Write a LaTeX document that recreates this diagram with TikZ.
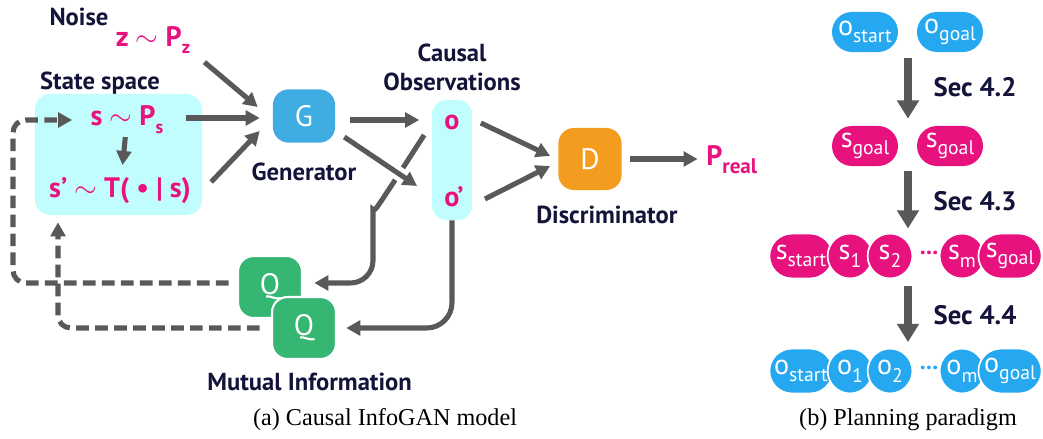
\documentclass[tikz,border=0pt]{standalone}
\usepackage{fontspec}
\setmainfont{PT Sans}
\newfontfamily\capfont{Liberation Serif}
\usetikzlibrary{arrows.meta,positioning,calc,shapes.misc}

\definecolor{ink}{HTML}{14143A}
\definecolor{hotpink}{HTML}{E8127F}
\definecolor{cyanbg}{HTML}{C1FDFD}
\definecolor{gblue}{HTML}{3FADE1}
\definecolor{dorange}{HTML}{F39C1F}
\definecolor{qgreen}{HTML}{36B673}
\definecolor{pillblue}{HTML}{26A8F0}
\definecolor{arrowgray}{HTML}{595959}

% lowered index, size in pt
\newcommand{\lowidx}[2][14]{\raisebox{-0.55ex}{\fontsize{#1}{#1}\selectfont #2}}

\begin{document}
\begin{tikzpicture}[
    x=0.025cm, y=-0.025cm,
    lbl/.style={font=\fontsize{17.5}{21}\selectfont\bfseries, text=ink, inner sep=0pt, align=center},
    seclbl/.style={font=\fontsize{19}{20}\selectfont\bfseries, text=ink, inner sep=0pt},
    pinktxt/.style={font=\fontsize{20}{22}\selectfont\bfseries, text=hotpink, inner sep=0pt},
    captxt/.style={font=\capfont\fontsize{17.2}{19}\selectfont, text=black, inner sep=0pt},
    statebox/.style={fill=cyanbg, rounded corners=11pt, minimum width=4.175cm, minimum height=3.025cm},
    obsbox/.style={fill=cyanbg, rounded corners=10pt, minimum width=1cm, minimum height=3cm},
    block/.style={rounded corners=11pt, text=white, font=\fontsize{21}{22}\selectfont, inner sep=0pt},
    gbox/.style={block, fill=gblue, minimum width=1.55cm, minimum height=1.33cm},
    dbox/.style={block, fill=dorange, minimum width=1.58cm, minimum height=1.55cm},
    qbox/.style={block, fill=qgreen, minimum width=1.6cm, minimum height=1.55cm, draw=white, line width=1.5pt},
    pill/.style={rounded rectangle, text=white, font=\fontsize{20}{20}\selectfont, inner sep=0pt, minimum width=1.65cm, minimum height=1cm},
    bluepill/.style={pill, fill=pillblue},
    pinkpill/.style={pill, fill=hotpink},
    wide/.style={minimum width=1.58cm, minimum height=1.12cm, draw=white, line width=1.2pt},
    disc/.style={circle, text=white, font=\fontsize{20}{20}\selectfont, inner sep=0pt, minimum size=1.12cm, draw=white, line width=1.2pt},
    pinkdisc/.style={disc, fill=hotpink},
    bluedisc/.style={disc, fill=pillblue},
    dotsnode/.style={font=\fontsize{17}{17}\selectfont\bfseries, inner sep=0pt},
    arr/.style={-{Triangle[length=10pt, width=10.5pt]}, line width=3.6pt, draw=arrowgray},
    dasharr/.style={arr, dash pattern=on 9pt off 4.5pt, rounded corners=9pt},
    bigarr/.style={-{Triangle[length=13pt, width=15pt]}, line width=5.8pt, draw=arrowgray}
  ]
    \useasboundingbox (0,0) rectangle (1043,439);

    % (a) Causal InfoGAN
    \node[lbl] (noise) at (79,17) {Noise};
    \node[pinktxt] (zP) at (153,40) {z $\sim$ P\lowidx[13]{z}};
    \node[lbl] (statelbl) at (100,83) {State space};
    \node[statebox] (state) at (118.5,154.5) {};
    \node[pinktxt] (sP) at (127,120) {s $\sim$ P\lowidx[13]{s}};
    \node[pinktxt] (sT) at (120,191) {s’ $\sim$ T( \textbullet\ | s)};

    \node[gbox] (G) at (304,116) {G};
    \node[lbl, below=14pt of G] (genlbl) {Generator};

    \node[obsbox] (obs) at (452,160) {};
    \node[pinktxt] (o) at (452,122) {o};
    \node[pinktxt] (o2) at (454,197) {o’};
    \node[lbl, above=6pt of obs] (obslbl) {Causal\\Observations};

    \node[dbox] (D) at (590,159) {D};
    \node[lbl, below=11pt of D, xshift=12pt] (dislbl) {Discriminator};
    \node[pinktxt, anchor=west] (Preal) at (706,160) {P\lowidx[15]{real}};

    \node[qbox] (Q1) at (270,287) {Q};
    \node[qbox] (Q2) at (304,328) {Q};
    \node[lbl, below=9pt of Q2, xshift=4pt] (mutlbl) {Mutual Information};

    \coordinate (rail1) at (13,0);
    \coordinate (rail2) at (58,0);
    \coordinate (cross) at (390,188);
    \coordinate (drop) at (373,232);

    \draw[arr, shorten <=2pt, shorten >=9pt] (sP) -- (sT);
    \draw[arr] ([shift={(14,8)}]zP.south east) -- ([shift={(-15,-9)}]G.west);
    \draw[arr] ([shift={(22,-2)}]sP.east) -- ([shift={(-13,2)}]G.west);
    \draw[arr] ([shift={(20,-9)}]sT.east) -- ([shift={(-13,15)}]G.west);

    \draw[arr] ([shift={(15,4)}]G.east) -- ([shift={(-25,-2)}]o.west);
    \draw[arr, rounded corners=16pt, shorten >=8pt] ([shift={(-20,13)}]o.west) -- (cross) to[out=236, in=90] (drop) |- ([shift={(0,-4)}]Q1.east);
    \draw[arr, preaction={draw=white, line width=10pt, -}] ([shift={(9,21)}]G.east) -- ([shift={(-27,-11)}]o2.west);
    \draw[arr, rounded corners=18pt, shorten >=6.5pt] (obs.south) |- (Q2.east);

    \draw[arr] ([shift={(21,1)}]o.east) -- ([shift={(-8,-3)}]D.west);
    \draw[arr] ([shift={(21,2)}]o2.east) -- ([shift={(-8,7)}]D.west);
    \draw[arr, shorten <=6pt, shorten >=6pt] (D.east) -- (D.east -| Preal.west);

    \draw[dasharr, shorten <=6pt, shorten >=13pt] ([shift={(0,-4)}]Q1.west) -- ([shift={(0,-4)}]Q1.west -| rail1) |- (sP.west);
    \draw[dasharr, shorten <=8pt, shorten >=5pt] (Q2.west) -- (Q2.west -| rail2) -- (rail2 |- state.south);

    \node[captxt] (capA) at (385,420) {(a) Causal InfoGAN model};

    % (b) Planning paradigm
    \coordinate (colR) at (908,0);
    \node[bluepill] (oS1) at (865,32) {o\lowidx{start}};
    \node[bluepill] (oG1) at (950,32) {o\lowidx{goal}};
    \node[pinkpill] (sA) at (865,146) {s\lowidx{goal}};
    \node[pinkpill] (sB) at (950,146) {s\lowidx{goal}};

    \node[pinkpill, wide] (sStart) at (801,256) {s\lowidx{start}};
    \node[pinkdisc] (s1) at (850,256) {s\lowidx{1}};
    \node[pinkdisc] (s2) at (890,256) {s\lowidx{2}};
    \node[dotsnode, text=hotpink] (sDots) at (929,253) {...};
    \node[pinkdisc] (sm) at (962,256) {s\lowidx{m}};
    \node[pinkpill, wide] (sGoal) at (1010,256) {s\lowidx{goal}};

    \node[bluepill, wide] (oStart) at (801,371) {o\lowidx{start}};
    \node[bluedisc] (o1) at (850,371) {o\lowidx{1}};
    \node[bluedisc] (o2b) at (890,371) {o\lowidx{2}};
    \node[dotsnode, text=pillblue] (oDots) at (929,368) {...};
    \node[bluedisc] (om) at (962,371) {o\lowidx{m}};
    \node[bluepill, wide] (oGoal) at (1010,371) {o\lowidx{goal}};

    \draw[bigarr, shorten <=4pt, shorten >=5pt] (colR |- oS1.south) -- (colR |- sA.north);
    \draw[bigarr, shorten <=3pt, shorten >=3pt] (colR |- sA.south) -- (colR |- sStart.north);
    \draw[bigarr, shorten <=5pt, shorten >=4pt] (colR |- sStart.south) -- (colR |- oStart.north);

    \node[seclbl] (sec42) at (975,87) {Sec 4.2};
    \node[seclbl] (sec43) at (975,201) {Sec 4.3};
    \node[seclbl] (sec44) at (975,315) {Sec 4.4};

    \node[captxt] (capB) at (908,420) {(b) Planning paradigm};
  \end{tikzpicture}
\end{document}
